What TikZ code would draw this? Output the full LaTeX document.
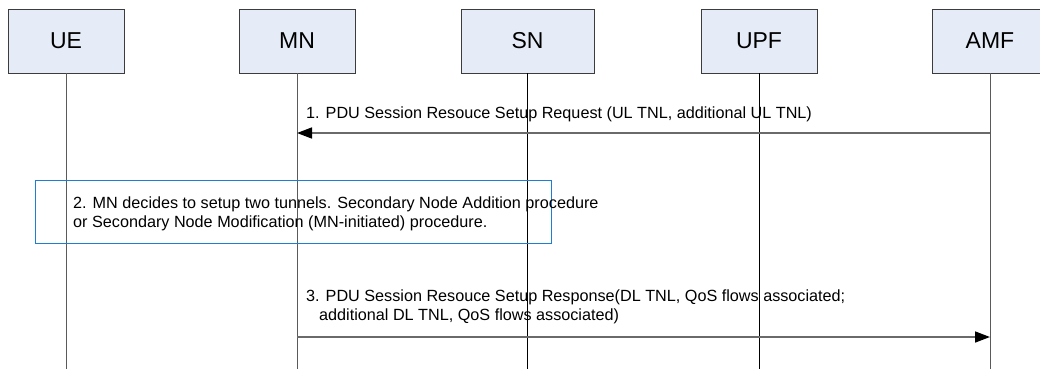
\documentclass[tikz,border=0pt]{standalone}
\usepackage{fontspec}
\setmainfont{Liberation Sans}
\usetikzlibrary{arrows.meta}
\definecolor{boxfill}{HTML}{E6ECF7}
\definecolor{boxborder}{HTML}{3C3C3C}
\definecolor{lifegray}{HTML}{5A5A5A}
\definecolor{msggray}{HTML}{6A6A6A}
\definecolor{procblue}{HTML}{1E7FD2}
\begin{document}
\begin{tikzpicture}[x=1bp,y=-1bp,
  entity/.style={draw=boxborder, fill=boxfill, line width=0.9bp, minimum width=116bp, minimum height=64bp, inner sep=0pt, font=\fontsize{23bp}{27bp}\selectfont},
  life/.style={draw=lifegray, line width=0.9bp},
  lifedark/.style={draw=black, line width=0.9bp},
  msg/.style={draw=msggray, line width=1.6bp, -{Triangle[length=15bp,width=11bp,color=black]}},
  lbl/.style={font=\fontsize{16.2bp}{19bp}\selectfont, inner sep=0pt, align=left, anchor=base west},
  procbox/.style={draw=procblue, line width=1bp, inner sep=0pt}]
\useasboundingbox (0,0) rectangle (1040,369);
% entities
\node[entity] (UE) at (66,41) {UE};
\node[entity] (MN) at (297,41) {MN};
\node[entity, minimum width=133bp] (SN) at (527.5,41) {SN};
\node[entity] (UPF) at (759,41) {UPF};
\node[entity] (AMF) at (990,41) {AMF};
% lifeline ends
\coordinate (UEend) at (66,369);
\coordinate (MNend) at (297,369);
\coordinate (SNend) at (527.5,369);
\coordinate (UPFend) at (759,369);
\coordinate (AMFend) at (990,369);
\draw[life] (UE.south) -- (UEend);
\draw[life] (MN.south) -- (MNend);
\draw[lifedark] (SN.south) -- (SNend);
\draw[lifedark] (UPF.south) -- (UPFend);
\draw[life] (AMF.south) -- (AMFend);
% message 1
\coordinate (m1a) at (990,133);
\coordinate (m1b) at (297,133);
\draw[msg] (m1a) -- (m1b);
\node[lbl] (t1) at (306,118) {1. PDU Session Resouce Setup Request (UL TNL, additional UL TNL)};
% step 2 (base anchor of a two-line node = baseline of last line)
\node[procbox, minimum width=515bp, minimum height=63bp] (p2) at (293.5,211.5) {};
\node[lbl] (t2) at (73,227) {2. MN decides to setup two tunnels. Secondary Node Addition procedure\\or Secondary Node Modification (MN-initiated) procedure.};
% message 3
\coordinate (m3a) at (297,337);
\coordinate (m3b) at (990,337);
\draw[msg] (m3a) -- (m3b);
\node[lbl] (t3) at (306,320) {3. PDU Session Resouce Setup Response(DL TNL, QoS flows associated;\\\hspace*{13bp}additional DL TNL, QoS flows associated)};
\end{tikzpicture}
\end{document}
